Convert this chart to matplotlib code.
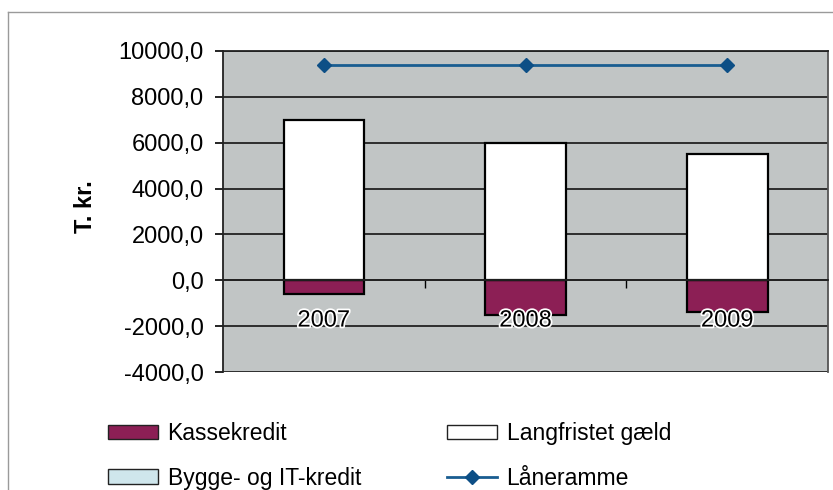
#!/usr/bin/env python3
"""Stacked bar chart of debt per year with a credit line limit."""

import matplotlib
matplotlib.use("Agg")
import matplotlib.pyplot as plt
import matplotlib.patheffects as pe
from matplotlib.lines import Line2D
from matplotlib.patches import Patch
from matplotlib.ticker import FuncFormatter

plt.rcParams["font.family"] = ["Liberation Sans", "DejaVu Sans"]

years = ["2007", "2008", "2009"]
kassekredit = [-600, -1500, -1400]
langfristet = [7000, 6000, 5500]
bygge_it = [0, 0, 0]
laaneramme = [9400, 9400, 9400]
y_ticks = [-4000, -2000, 0, 2000, 4000, 6000, 8000, 10000]

BG = "#c1c5c5"
KASSE = "#8c1f55"
BYGGE = "#cfe6ec"
LINE = "#195d91"

fig = plt.figure(figsize=(8.33, 4.9), dpi=100)
ax = fig.add_axes([223 / 833, 1 - 372 / 490, 605 / 833, 321 / 490])
ax.set_facecolor(BG)
ax.set_axisbelow(True)

x = range(len(years))
ax.bar(x, kassekredit, width=0.4, color=KASSE, edgecolor="black", linewidth=1.6)
ax.bar(x, langfristet, width=0.4, color="white", edgecolor="black", linewidth=1.6)
ax.bar(x, bygge_it, width=0.4, bottom=langfristet, color=BYGGE, linewidth=0)
ax.plot(x, laaneramme, color=LINE, linewidth=2, marker="D", markersize=7,
        markerfacecolor="#0d4f86", markeredgecolor="#0d4f86")

ax.set_xlim(-0.5, 2.5)
ax.set_ylim(-4000, 10000)
ax.set_yticks(y_ticks)
ax.yaxis.set_major_formatter(FuncFormatter(lambda v, _: f"{v:.1f}".replace(".", ",")))
ax.tick_params(axis="y", labelsize=17, length=6, width=1.2, pad=8)
ax.grid(axis="y", color="#222222", linewidth=1.3)

# category axis crosses at zero
ax.spines["bottom"].set_position(("data", 0))
ax.set_xticks([0.5, 1.5])
ax.set_xticklabels([])
ax.tick_params(axis="x", length=6, width=1, direction="out")
for s in ax.spines.values():
    s.set_color("#222222")
    s.set_linewidth(1.3)
ax.spines["right"].set_color("#555555")

for i, yr in enumerate(years):
    ax.annotate(yr, xy=(i, 0), xytext=(0, -29), textcoords="offset points",
                ha="center", va="center", fontsize=17, color="black", zorder=5,
                path_effects=[pe.withStroke(linewidth=2.5, foreground="white")])

fig.text(86 / 833, 1 - 207 / 490, "T. kr.", rotation=90, fontsize=17,
         fontweight="bold", ha="center", va="center")

# outer chart border (cut off on the right and bottom)
fig.add_artist(Line2D([8 / 833, 8 / 833], [0, 1 - 12 / 490], color="#9a9a9a", lw=1))
fig.add_artist(Line2D([8 / 833, 1], [1 - 12 / 490, 1 - 12 / 490], color="#9a9a9a", lw=1))

h_kasse = Patch(facecolor=KASSE, edgecolor="#222222", linewidth=1)
h_bygge = Patch(facecolor=BYGGE, edgecolor="#222222", linewidth=1)
h_lang = Patch(facecolor="white", edgecolor="#222222", linewidth=1)
h_line = Line2D([], [], color=LINE, linewidth=2, marker="D", markersize=7,
                markerfacecolor="#0d4f86", markeredgecolor="#0d4f86")

common = dict(loc="upper left", frameon=False, fontsize=16.5, borderpad=0,
              borderaxespad=0, handlelength=2.2, handleheight=0.6,
              handletextpad=0.4, labelspacing=0.95)
leg1 = fig.legend([h_kasse, h_bygge], ["Kassekredit", "Bygge- og IT-kredit"],
                  bbox_to_anchor=(108 / 833, 1 - 422 / 490), **common)
leg2 = fig.legend([h_lang, h_line], ["Langfristet gæld", "Låneramme"],
                  bbox_to_anchor=(447 / 833, 1 - 422 / 490), **common)

fig.savefig("out.png", dpi=100, facecolor="white")
